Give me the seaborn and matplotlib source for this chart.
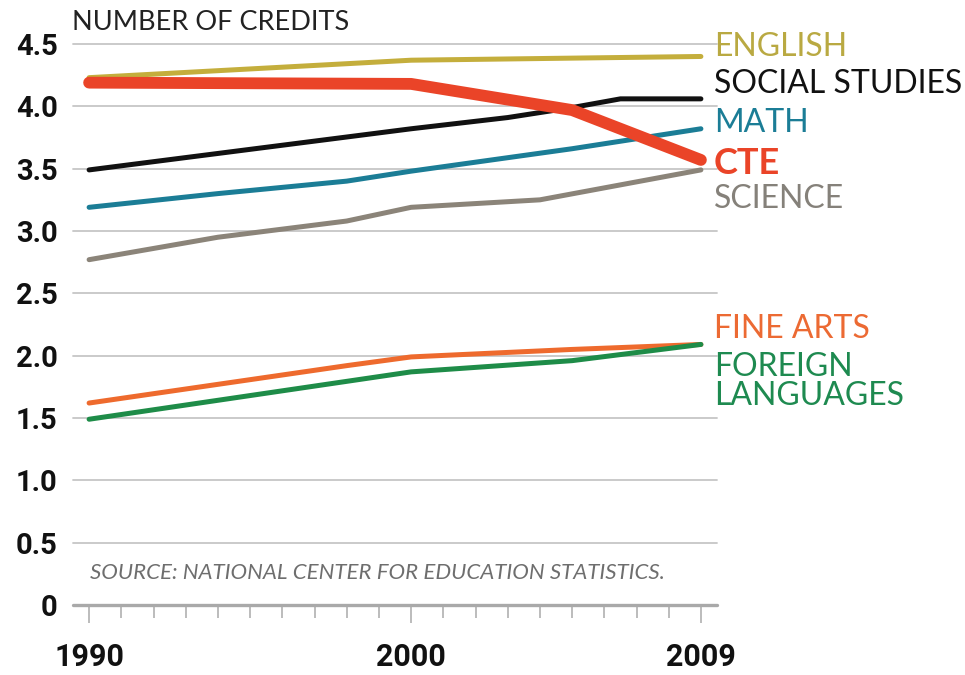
import matplotlib
matplotlib.use("Agg")
import matplotlib.pyplot as plt
from matplotlib.ticker import FixedLocator, MultipleLocator
import numpy as np
import pandas as pd
import seaborn as sns

# Average credits earned by high school graduates, by subject
english_years = [1990, 2000, 2009]
english = [4.23, 4.37, 4.40]

social_years = [1990, 2000, 2003, 2005, 2006.5, 2009]
social = [3.49, 3.82, 3.91, 3.99, 4.06, 4.06]

math_years = [1990, 1994, 1998, 2000, 2005, 2009]
math_vals = [3.19, 3.30, 3.40, 3.48, 3.66, 3.82]

cte_years = [1990, 2000, 2005, 2009]
cte = [4.19, 4.18, 3.97, 3.57]

science_years = [1990, 1994, 1998, 2000, 2004, 2009]
science = [2.77, 2.95, 3.08, 3.19, 3.25, 3.49]

arts_years = [1990, 1994, 1998, 2000, 2005, 2009]
arts = [1.62, 1.77, 1.92, 1.99, 2.05, 2.09]

lang_years = [1990, 2000, 2005, 2009]
lang = [1.49, 1.87, 1.96, 2.09]

y_ticks = [0, 0.5, 1.0, 1.5, 2.0, 2.5, 3.0, 3.5, 4.0, 4.5]
y_tick_labels = ["0", "0.5", "1.0", "1.5", "2.0", "2.5", "3.0", "3.5", "4.0", "4.5"]
x_labels = [1990, 2000, 2009]

series = [
    ("ENGLISH", english_years, english),
    ("SOCIAL STUDIES", social_years, social),
    ("MATH", math_years, math_vals),
    ("SCIENCE", science_years, science),
    ("FINE ARTS", arts_years, arts),
    ("FOREIGN LANGUAGES", lang_years, lang),
    ("CTE", cte_years, cte),
]
frames = [pd.DataFrame({"year": yrs, "credits": vals, "subject": name})
          for name, yrs, vals in series]
df = pd.concat(frames, ignore_index=True)

colors = {
    "ENGLISH": "#c4ae3c",
    "SOCIAL STUDIES": "#111111",
    "MATH": "#1b7d96",
    "CTE": "#ea4428",
    "SCIENCE": "#8b8479",
    "FINE ARTS": "#ee6a2d",
    "FOREIGN LANGUAGES": "#1e8c48",
}
label_colors = {
    "ENGLISH": "#b9a942",
    "SOCIAL STUDIES": "#111111",
    "MATH": "#1b7d96",
    "CTE": "#ea4428",
    "SCIENCE": "#85817a",
    "FINE ARTS": "#ec6a33",
    "FOREIGN LANGUAGES": "#1e8a50",
}

sns.set_theme(style="white")
plt.rcParams["font.family"] = ["Roboto", "DejaVu Sans"]

fig = plt.figure(figsize=(9.65, 6.75), dpi=100)
ax = fig.add_axes([73 / 965, 1 - 605 / 675, (717 - 73) / 965, (605 - 44) / 675])

for name, _, _ in series:
    sub = df[df["subject"] == name]
    lw = 8.5 if name == "CTE" else 3.6
    sns.lineplot(data=sub, x="year", y="credits", color=colors[name],
                 linewidth=lw, ax=ax, legend=False, sort=True,
                 solid_capstyle="round", solid_joinstyle="round",
                 zorder=5 if name == "CTE" else 3)

for ln in ax.lines:
    ln.set_clip_on(False)

ax.set_xlim(1989.5, 2009.5)
ax.set_ylim(0, 4.5)
for s in ax.spines.values():
    s.set_visible(False)

# horizontal rules
for y in y_ticks:
    if y == 0:
        ax.axhline(y, color="#a9a9a9", lw=2.4, zorder=1, clip_on=False)
    else:
        ax.axhline(y, color="#c6c6c6", lw=1.3, zorder=1, clip_on=False)

ax.set_yticks(y_ticks)
ax.set_yticklabels(y_tick_labels)
ax.tick_params(axis="y", length=0, pad=11, labelsize=21, labelcolor="#111111")
for t in ax.get_yticklabels():
    t.set_fontweight("bold")

ax.xaxis.set_major_locator(FixedLocator(x_labels))
ax.xaxis.set_minor_locator(MultipleLocator(1))
ax.set_xticklabels([str(v) for v in x_labels])
ax.tick_params(axis="x", which="major", length=13, width=1.1, color="#aaaaaa",
               pad=14, labelsize=22, labelcolor="#111111", direction="out",
               bottom=True)
ax.tick_params(axis="x", which="minor", length=9, width=1.1, color="#aaaaaa",
               direction="out", bottom=True)
for t in ax.get_xticklabels():
    t.set_fontweight("bold")
ax.set_xlabel("")
ax.set_ylabel("")
ax.grid(False)

# series labels to the right of the plot
label_pos = [
    ("ENGLISH", 46.5, 23, "normal"),
    ("SOCIAL STUDIES", 84, 23, "normal"),
    ("MATH", 123, 23, "normal"),
    ("CTE", 163, 26, "bold"),
    ("SCIENCE", 199, 23, "normal"),
    ("FINE ARTS", 329, 23, "normal"),
    ("FOREIGN", 367, 23, "normal"),
    ("LANGUAGES", 396, 23, "normal"),
]
for text, ypix, size, weight in label_pos:
    key = "FOREIGN LANGUAGES" if text in ("FOREIGN", "LANGUAGES") else text
    fig.text(714 / 965, 1 - ypix / 675, text, color=label_colors[key],
             fontsize=size, fontweight=weight, ha="left", va="center",
             family=["Lato", "DejaVu Sans"])

fig.text(72 / 965, 1 - 22 / 675, "NUMBER OF CREDITS", fontsize=19.5,
         fontweight="normal", color="#222222", ha="left", va="center",
         family=["Lato", "DejaVu Sans"])

fig.text(90 / 965, 1 - 573 / 675,
         "SOURCE: NATIONAL CENTER FOR EDUCATION STATISTICS.",
         fontsize=16, fontstyle="italic", fontweight="normal", color="#6e6e6e",
         ha="left", va="center", family=["Lato", "DejaVu Sans"])

fig.savefig("out.png", dpi=100, facecolor="white")
